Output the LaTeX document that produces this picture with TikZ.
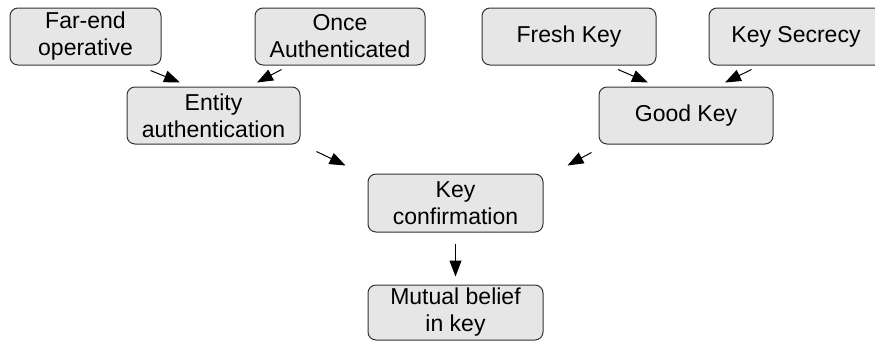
\documentclass[tikz,border=0pt]{standalone}
\usepackage{fontspec}
\setmainfont{Liberation Sans}
\usetikzlibrary{calc,arrows.meta}
\definecolor{boxfill}{HTML}{E6E6E6}
\definecolor{boxline}{HTML}{333333}
\tikzset{
  box/.style={draw=boxline, fill=boxfill, line width=1pt, rounded corners=8pt,
    align=center, inner sep=0pt, minimum height=57pt,
    font=\fontsize{23}{27}\selectfont},
  arr/.style={line width=1pt, -{Triangle[length=16pt,width=12pt]}},
}
\begin{document}
\begin{tikzpicture}[x=1pt,y=-1pt]
\useasboundingbox (0,0) rectangle (875,341);
% top row: preconditions
\node[box, minimum width=151pt] (far)   at (85.5,36.5)  {Far-end\\operative};
\node[box, minimum width=170pt] (once)  at (340,36.5)   {Once\\Authenticated};
\node[box, minimum width=174pt] (fresh) at (569,36.5)   {Fresh Key};
\node[box, minimum width=174pt] (secr)  at (796,36.5)   {Key Secrecy};
% middle row
\node[box, minimum width=173pt] (ent)   at (213.5,115.5) {Entity\\authentication};
\node[box, minimum width=174pt] (good)  at (686,115.5)   {Good Key};
% bottom chain
\node[box, minimum width=175pt, minimum height=58pt] (conf) at (455.5,203) {Key\\confirmation};
\node[box, minimum width=175pt, minimum height=55pt] (mut)  at (455.5,312.5) {Mutual belief\\in key};
% short arrows between levels
\draw[arr] ($(far.south east)+(-11,5)$)  -- ($(ent.north)+(-33.5,-4)$);
\draw[arr] ($(once.south west)+(27,4)$)  -- ($(ent.north)+(43.5,-4)$);
\draw[arr] ($(fresh.south)+(49,4)$)      -- ($(good.north)+(-38,-4)$);
\draw[arr] ($(secr.south west)+(43,4)$)  -- ($(good.north)+(39,-4)$);
\draw[arr] ($(ent.south east)+(16,7)$)   -- ($(conf.north west)+(-22,-8)$);
\draw[arr] ($(good.south west)+(-7,8)$)  -- ($(conf.north east)+(24,-8)$);
\draw[arr] ($(conf.south)+(0,11)$)       -- ($(mut.north)+(0,-8)$);
\end{tikzpicture}
\end{document}
